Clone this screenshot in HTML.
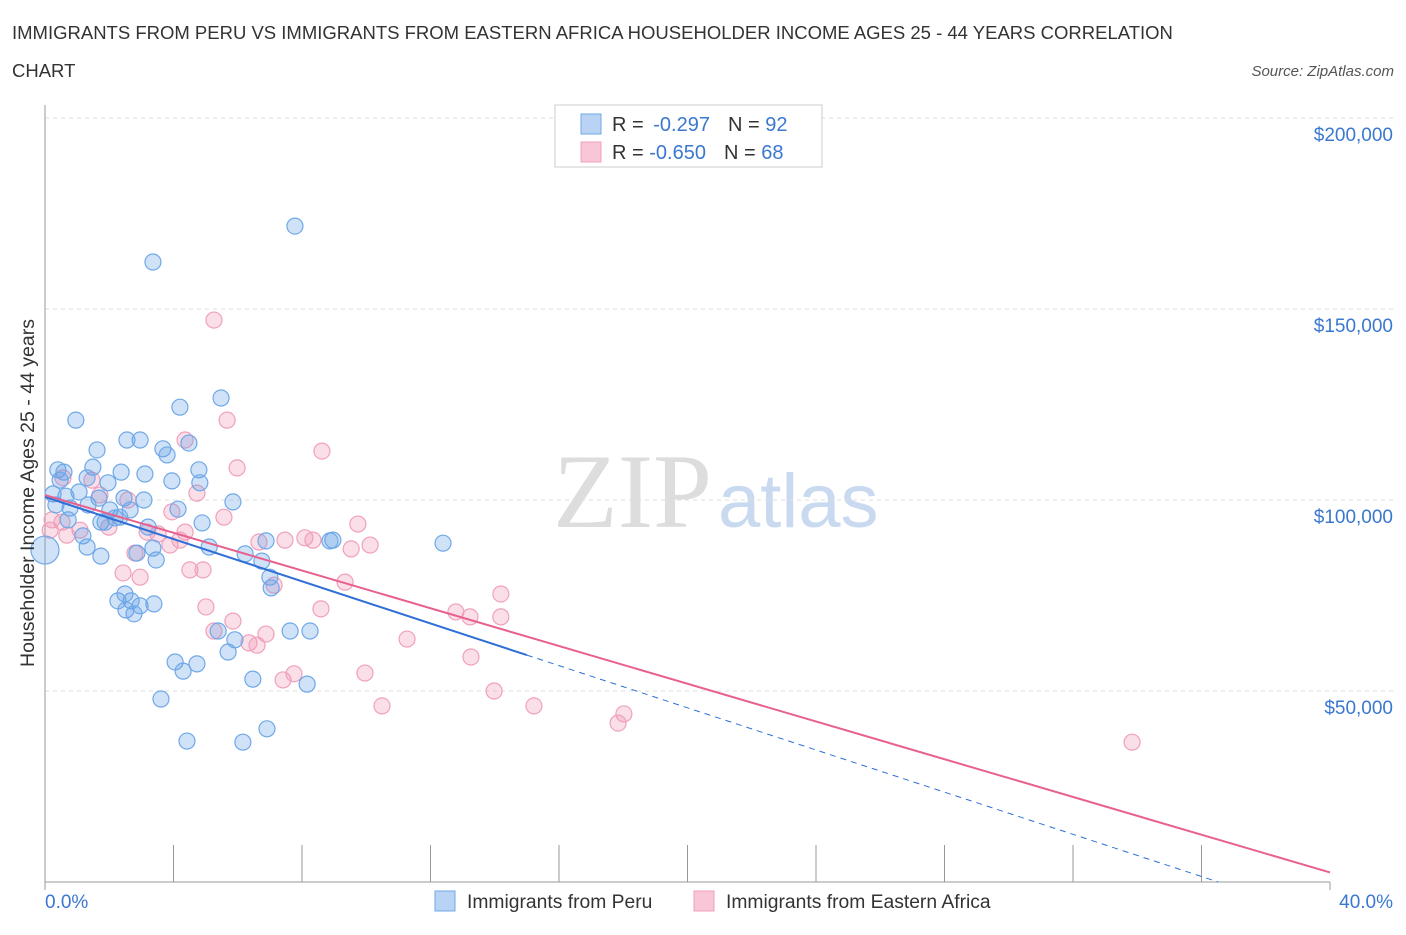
<!DOCTYPE html>
<html><head><meta charset="utf-8">
<style>
body{margin:0;background:#fff;font-family:"Liberation Sans",sans-serif;}
svg text{font-family:"Liberation Sans",sans-serif;}
</style></head>
<body>
<svg id="chart" width="1406" height="930" xmlns="http://www.w3.org/2000/svg">
<text x="12" y="39" font-size="18.5" fill="#333">IMMIGRANTS FROM PERU VS IMMIGRANTS FROM EASTERN AFRICA HOUSEHOLDER INCOME AGES 25 - 44 YEARS CORRELATION</text>
<text x="12" y="77" font-size="18.5" fill="#333">CHART</text>
<text x="1394" y="76" font-size="15" fill="#555" font-style="italic" text-anchor="end">Source: ZipAtlas.com</text>
<g>
<text x="553" y="527" font-size="106" fill="#ddd" font-family="Liberation Serif" style="font-family:'Liberation Serif',serif">ZIP</text>
<text x="718" y="527" font-size="76" fill="#c9daf0">atlas</text>
</g>
<g id="grid"></g>
<g id="axes"></g>
<g id="marks"></g>
<text transform="translate(34,493) rotate(-90)" font-size="19.5" fill="#333" text-anchor="middle">Householder Income Ages 25 - 44 years</text>
<g>
<rect x="555" y="105" width="267" height="62" fill="#fff" stroke="#ccc"/>
<rect x="581" y="114" width="20" height="20" fill="#b8d3f3" stroke="#6fa8e8"/>
<text x="612" y="131" font-size="20" fill="#333">R = <tspan fill="#3a78d0" dx="4">-0.297</tspan><tspan dx="18">N = </tspan><tspan fill="#3a78d0">92</tspan></text>
<rect x="581" y="142" width="20" height="20" fill="#f8c6d6" stroke="#f0a0bc"/>
<text x="612" y="159" font-size="20" fill="#333">R = <tspan fill="#3a78d0">-0.650</tspan><tspan dx="18">N = </tspan><tspan fill="#3a78d0">68</tspan></text>
</g>
<g>
<rect x="435" y="891" width="20" height="20" fill="#b8d3f3" stroke="#6fa8e8"/>
<text x="467" y="908" font-size="19.3" fill="#333">Immigrants from Peru</text>
<rect x="694" y="891" width="20" height="20" fill="#f8c6d6" stroke="#f0a0bc"/>
<text x="726" y="908" font-size="19.3" fill="#333">Immigrants from Eastern Africa</text>
</g>
</svg>
<script>
const xTicks=[0,4,8,12,16,20,24,28,32,36,40];
const yTicks=[50000,100000,150000,200000];
const yTickLabels=["$50,000","$100,000","$150,000","$200,000"];
const peruX=[0,7.78,3.36,5.48,4.20,0.96,2.55,2.96,1.62,3.67,4.48,3.80,0.40,0.59,1.49,2.37,3.11,4.79,1.31,0.47,1.96,3.95,4.82,0.25,0.65,1.06,1.68,2.46,3.08,5.85,0.34,0.78,1.34,2.02,2.65,4.14,0.72,1.74,2.33,3.21,4.89,6.88,8.96,12.39,1.18,5.11,6.23,6.75,3.36,2.86,1.74,1.31,3.46,7.00,7.04,2.27,2.68,3.39,2.96,2.52,2.77,5.39,5.91,7.63,8.25,5.70,4.05,4.73,4.30,6.47,8.16,3.61,6.91,4.42,6.16,8.87,2.49,1.87,2.18];
const peruY=[86.9,171.7,162.3,126.7,124.3,120.9,115.7,115.7,113.1,113.4,114.9,111.8,107.9,107.3,108.6,107.3,106.8,107.9,105.8,105.2,104.5,105.0,104.5,101.6,101.0,102.1,100.5,100.5,100.0,99.5,98.7,97.9,98.7,97.4,97.4,97.6,94.8,94.2,95.5,92.9,94.0,89.3,89.5,88.7,90.6,87.7,85.9,84.0,87.4,86.1,85.3,87.7,84.3,79.8,77.0,73.6,73.6,72.8,72.3,71.2,70.2,65.7,63.4,65.7,65.7,60.2,57.6,57.1,55.2,53.1,51.8,47.9,40.1,36.9,36.6,89.3,75.4,94.2,95.3];
const afrX=[5.26,5.67,4.36,8.62,5.98,0.56,1.46,2.58,4.73,3.95,5.57,9.74,0.53,1.09,1.99,3.18,3.52,4.36,6.66,7.47,8.09,8.34,9.53,10.12,2.80,3.89,4.51,4.92,2.43,2.96,7.13,9.34,14.19,5.01,5.85,8.59,12.79,13.23,14.19,5.26,6.88,6.35,6.60,11.27,13.26,9.96,7.41,7.75,10.49,13.98,15.22,18.02,17.84,33.84,0.16,0.22,0.68,1.71,4.20];
const afrY=[147.1,120.9,115.7,112.8,108.4,105.8,105.2,100.0,101.8,96.9,95.5,93.7,94.2,92.1,92.9,91.6,91.1,91.6,89.0,89.5,90.1,89.5,87.2,88.2,86.1,88.2,81.7,81.7,80.9,79.8,77.7,78.5,75.4,72.0,68.3,71.5,70.7,69.4,69.4,65.7,64.9,62.6,62.0,63.6,58.9,54.7,52.9,54.5,46.1,50.0,46.1,44.0,41.6,36.6,92.1,94.8,90.8,101.3,89.5];
const peruTrend=[100.8,-2.76]; const peruTrendEnd=15;
const afrTrend=[101.3,-2.47];

const X0=45,X1=1330,Y0=882,Y200=118;
const sx=p=>X0+(p/40)*(X1-X0);
const sy=v=>Y0-(v/200000)*(Y0-Y200);
const NS="http://www.w3.org/2000/svg";
function mk(tag,attrs,parent){const e=document.createElementNS(NS,tag);for(const k in attrs)e.setAttribute(k,attrs[k]);parent.appendChild(e);return e;}
const grid=document.getElementById('grid'),axes=document.getElementById('axes'),marks=document.getElementById('marks');
yTicks.forEach((t,i)=>{
 const g=mk('line',{x1:X0,x2:1394,y1:sy(t),y2:sy(t),stroke:'#ddd','stroke-dasharray':'4,4'},grid);
 
 
 const l=mk('text',{x:1393,y:sy(t)+23,'font-size':19,fill:'#3a78d0','text-anchor':'end'},axes);
 l.textContent=yTickLabels[i];
 
 
});
const yl=mk('line',{x1:X0,x2:X0,y1:105,y2:Y0,stroke:'#999'},axes);


const xl=mk('line',{x1:X0,x2:X1,y1:Y0,y2:Y0,stroke:'#999'},axes);


xTicks.forEach(t=>{
 const tk=mk('line',{x1:sx(t),x2:sx(t),y1:Y0,y2:t===0||t===40?Y0+8:845,stroke:'#999'},axes);
 
 
});
const xa=mk('text',{x:45,y:908,'font-size':19,fill:'#3a78d0'},axes);xa.textContent='0.0%';


const xb=mk('text',{x:1393,y:908,'font-size':19,fill:'#3a78d0','text-anchor':'end'},axes);xb.textContent='40.0%';



afrX.forEach((x,i)=>{
 const c=mk('circle',{cx:sx(x),cy:sy(afrY[i]*1000),r:8,fill:'rgba(240,150,180,0.3)',stroke:'#f0a0bc','stroke-width':1.2},marks);
 
 
});
peruX.forEach((x,i)=>{
 const c=mk('circle',{cx:sx(x),cy:sy(peruY[i]*1000),r:i===0?14:8,fill:'rgba(100,160,230,0.3)',stroke:'#6fa8e8','stroke-width':1.2},marks);
 
 
});
const py=x=>(peruTrend[0]+peruTrend[1]*x)*1000;
const ay=x=>(afrTrend[0]+afrTrend[1]*x)*1000;
const xZero=-peruTrend[0]/peruTrend[1];
const l1=mk('line',{x1:sx(0),y1:sy(py(0)),x2:sx(peruTrendEnd),y2:sy(py(peruTrendEnd)),stroke:'#2f6fd6','stroke-width':2},marks);


const l2=mk('line',{x1:sx(peruTrendEnd),y1:sy(py(peruTrendEnd)),x2:sx(xZero),y2:sy(0),stroke:'#2f6fd6','stroke-width':1,'stroke-dasharray':'6,5'},marks);


const l3=mk('line',{x1:sx(0),y1:sy(ay(0)),x2:sx(40),y2:sy(ay(40)),stroke:'#e8608e','stroke-width':2},marks);


</script>
</body></html>
